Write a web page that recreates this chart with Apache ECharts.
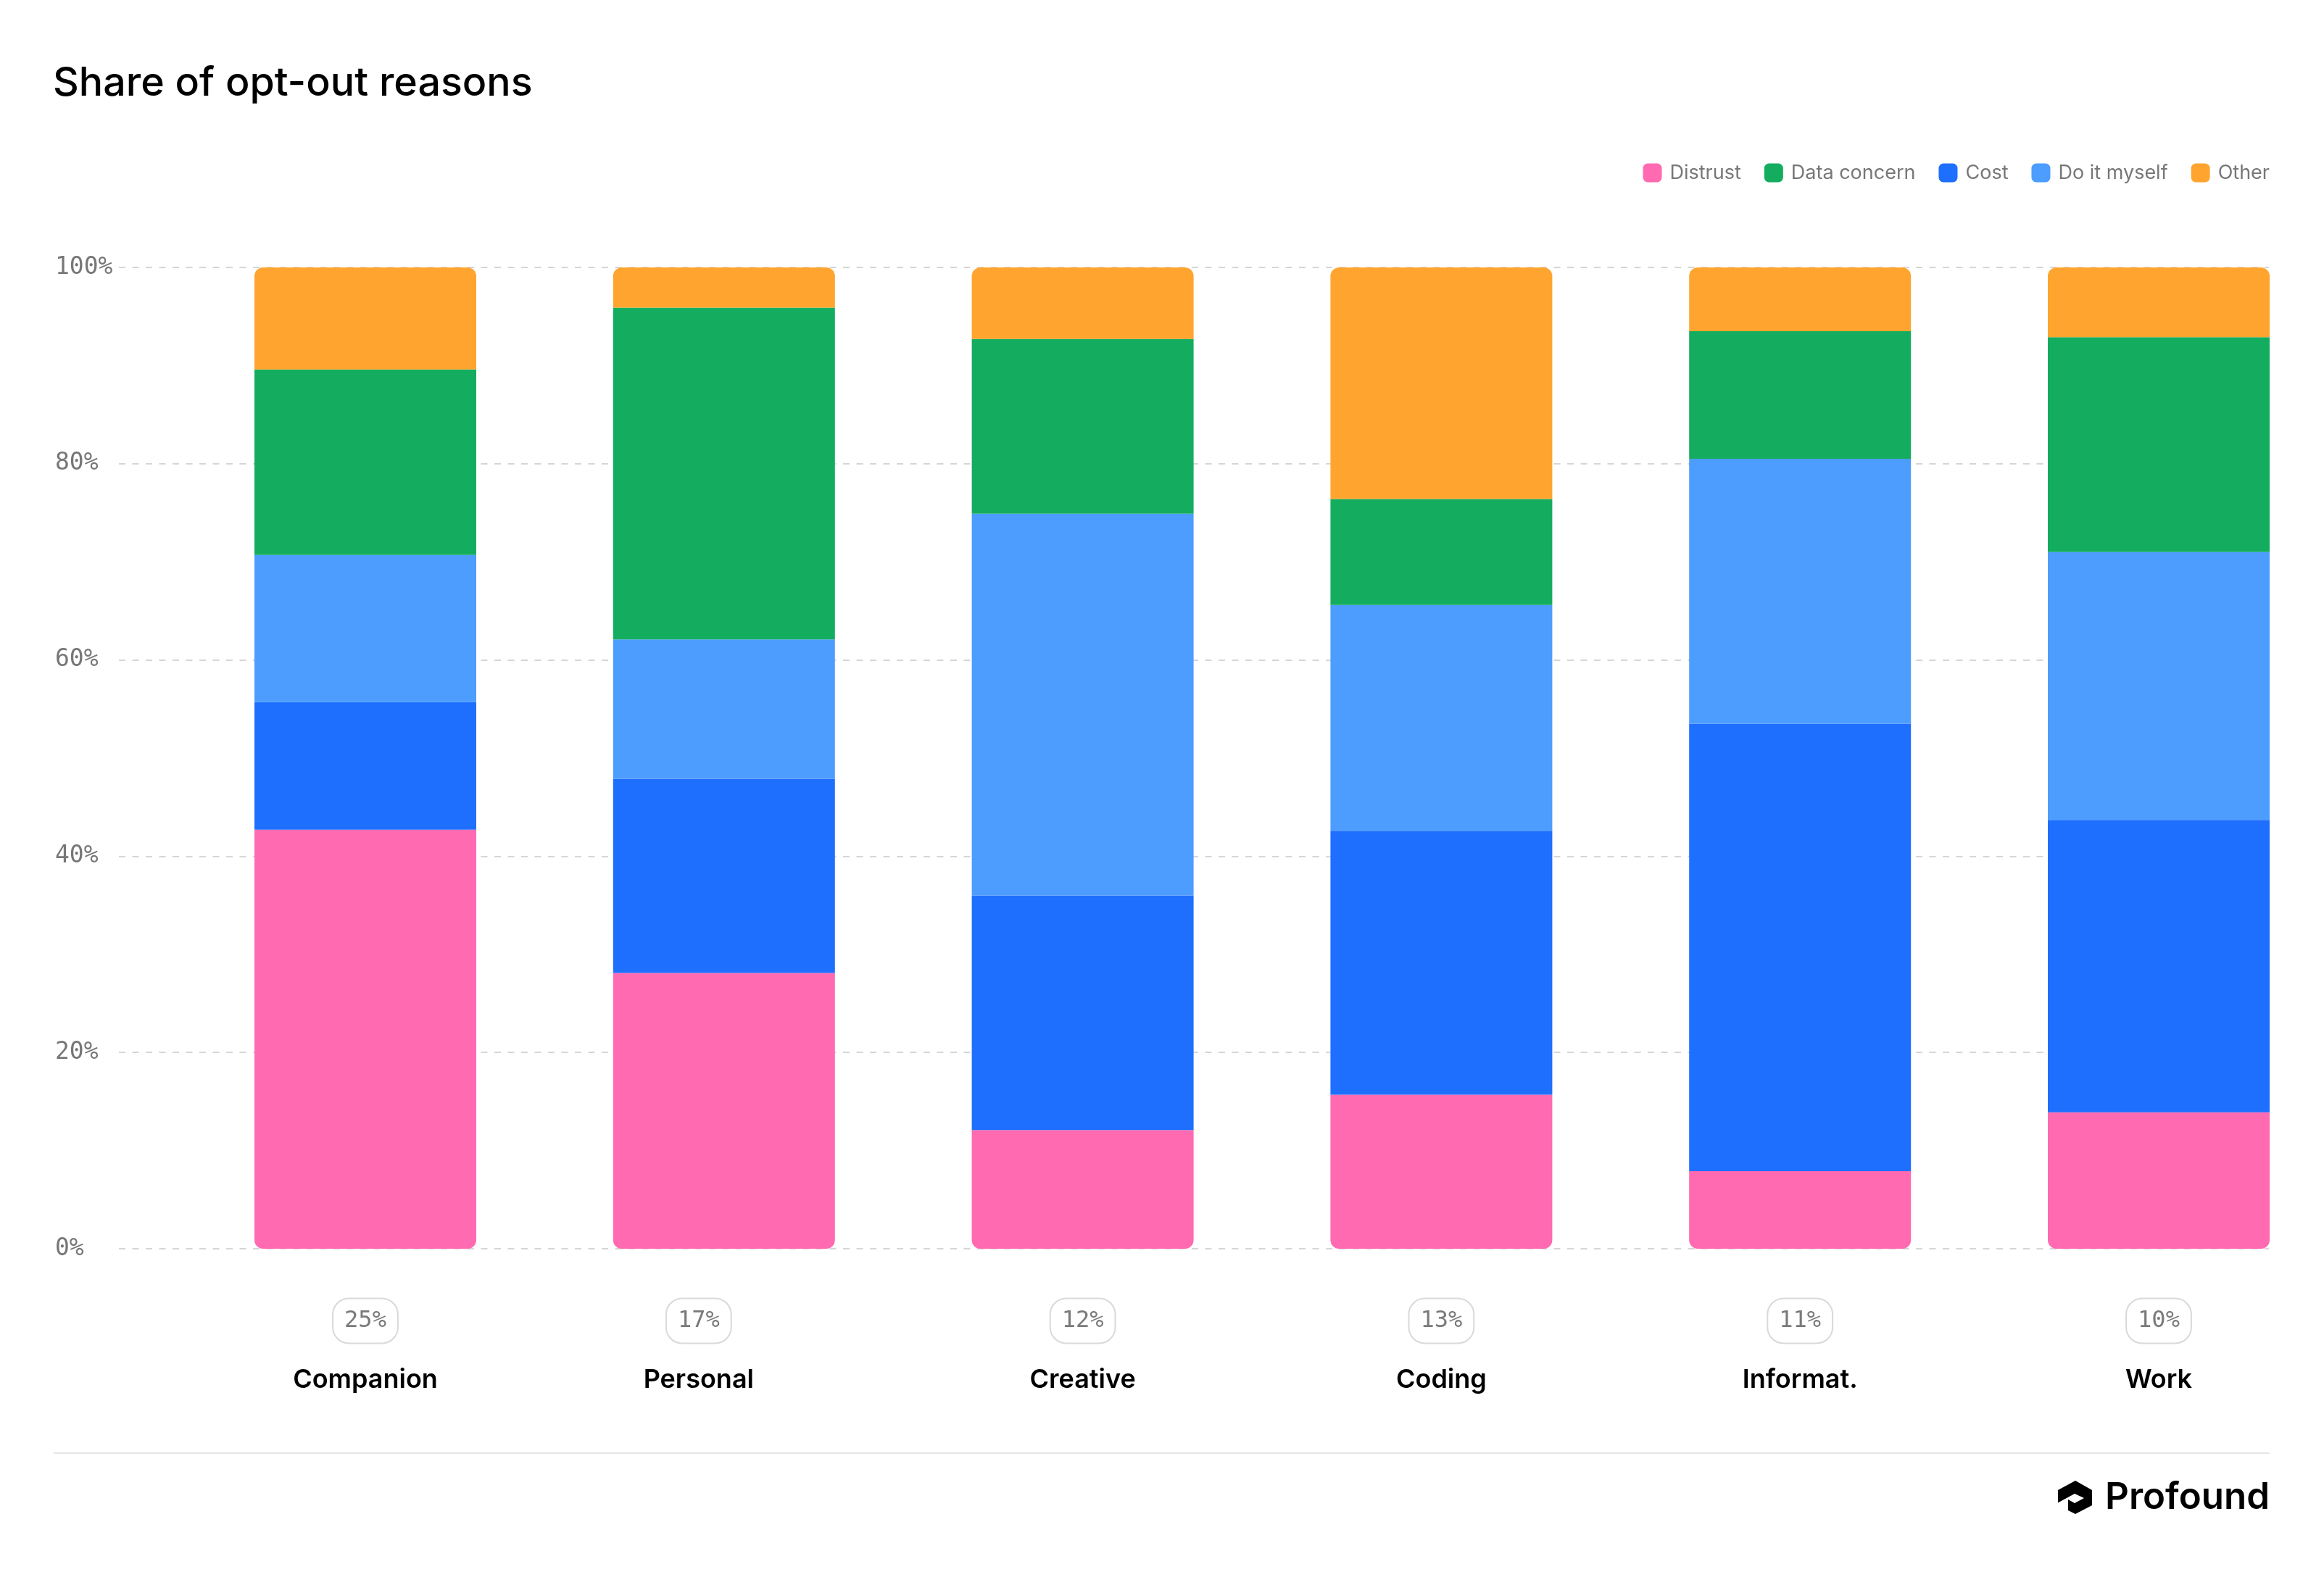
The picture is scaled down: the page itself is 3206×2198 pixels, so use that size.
<!DOCTYPE html>
<html>
<head>
<meta charset="utf-8">
<title>Share of opt-out reasons</title>
<script src="https://cdn.jsdelivr.net/npm/echarts@6/dist/echarts.min.js"></script>
<style>
  html, body { margin: 0; padding: 0; background: #fff; }
  #chart { width: 3206px; height: 2198px; }
</style>
</head>
<body>
<div id="chart"></div>
<script>
// data (percent of each bar)
var categories = ['Companion', 'Personal', 'Creative', 'Coding', 'Informat.', 'Work'];
var shares = [25, 17, 12, 13, 11, 10];
var distrust = [42.7, 28.1, 12.1, 15.7, 7.9, 13.9];
var cost = [13.0, 19.8, 23.9, 26.9, 45.6, 29.8];
var doItMyself = [15.0, 14.2, 38.9, 23.0, 27.0, 27.3];
var dataConcern = [18.9, 33.8, 17.8, 10.8, 13.0, 21.9];
var other = [10.4, 4.1, 7.3, 23.6, 6.5, 7.1];
var yTicks = [0, 20, 40, 60, 80, 100];

var colors = {
  distrust: '#FF6AB1',
  dataConcern: '#14AD5F',
  cost: '#1F6FFE',
  doItMyself: '#4D9DFE',
  other: '#FFA52F'
};

var myChart = echarts.init(document.getElementById('chart'));

function barSeries(name, data, color, radius) {
  return {
    name: name,
    type: 'bar',
    stack: 'total',
    xAxisIndex: 0,
    yAxisIndex: 0,
    barWidth: 306,
    clip: false,
    data: data,
    itemStyle: { color: color, borderRadius: radius || 0 }
  };
}

var option = {
  animation: false,
  backgroundColor: '#fff',
  color: [colors.distrust, colors.dataConcern, colors.cost, colors.doItMyself, colors.other],
  title: {
    text: 'Share of opt-out reasons',
    left: 68,
    top: 82,
    textStyle: { fontFamily: 'Inter', fontSize: 55.5, fontWeight: 500, color: '#000' }
  },
  legend: {
    right: 70,
    top: 220,
    itemWidth: 26,
    itemHeight: 26,
    itemGap: 32,
    icon: 'roundRect',
    data: ['Distrust', 'Data concern', 'Cost', 'Do it myself', 'Other'],
    textStyle: { fontFamily: 'Inter', fontSize: 27, color: '#777', padding: [0, 0, 0, 6] }
  },
  grid: [
    // bars
    { left: 504, right: 228, top: 369, bottom: 475 },
    // gridlines + y labels
    { left: 164, right: 76, top: 369, bottom: 475 }
  ],
  xAxis: [
    {
      type: 'category',
      gridIndex: 0,
      boundaryGap: false,
      data: categories.map(function (c) {
        var item = { value: c };
        // the Personal label sits a bit left of its bar in the original
        if (c === 'Personal') item.textStyle = { padding: [0, 70, 0, 0] };
        return item;
      }),
      axisLine: { show: false },
      axisTick: { show: false },
      splitLine: { show: false },
      axisLabel: {
        interval: 0,
        margin: 84,
        formatter: function (value, idx) {
          return '{p|' + shares[idx] + '%}\n{n|' + value + '}';
        },
        rich: {
          p: {
            fontFamily: 'DejaVu Sans Mono',
            fontSize: 32,
            color: '#7a7a7a',
            lineHeight: 31,
            padding: [15, 16, 15, 16],
            borderColor: '#d9d9d9',
            borderWidth: 2,
            borderRadius: 22
          },
          n: {
            fontFamily: 'Inter',
            fontSize: 36,
            fontWeight: 600,
            color: '#000',
            lineHeight: 132
          }
        }
      }
    },
    { type: 'value', gridIndex: 1, show: false }
  ],
  yAxis: [
    { type: 'value', gridIndex: 0, min: 0, max: 100, show: false },
    {
      type: 'value',
      gridIndex: 1,
      min: yTicks[0],
      max: yTicks[yTicks.length - 1],
      interval: 20,
      axisLine: { show: false },
      axisTick: { show: false },
      axisLabel: {
        align: 'left',
        margin: 88,
        fontFamily: 'DejaVu Sans Mono',
        fontSize: 33,
        color: '#777',
        formatter: '{value}%'
      },
      splitLine: {
        lineStyle: { color: '#d6d6d6', width: 2, type: [9, 9.5] }
      }
    }
  ],
  series: [
    barSeries('Distrust', distrust, colors.distrust, [0, 0, 12, 12]),
    barSeries('Cost', cost, colors.cost),
    barSeries('Do it myself', doItMyself, colors.doItMyself),
    barSeries('Data concern', dataConcern, colors.dataConcern),
    barSeries('Other', other, colors.other, [12, 12, 0, 0])
  ],
  graphic: [
    {
      type: 'line',
      shape: { x1: 74, y1: 2005, x2: 3131, y2: 2005 },
      style: { stroke: '#e6e6e6', lineWidth: 2 }
    },
    // logo mark
    {
      type: 'group',
      x: 2839,
      y: 2043,
      children: [
        {
          type: 'polygon',
          shape: { points: [[24, 0], [47, 13], [47, 34], [24, 46], [0, 34], [0, 13]] },
          style: { fill: '#000' }
        },
        {
          type: 'polygon',
          shape: { points: [[-1, 31], [23, 18], [36, 24], [23, 31], [14, 26], [14, 47], [-1, 47]] },
          style: { fill: '#fff' }
        }
      ]
    },
    {
      type: 'text',
      x: 3131,
      y: 2067,
      style: {
        text: 'Profound',
        fontFamily: 'Inter',
        fontSize: 51,
        fontWeight: 600,
        fill: '#000',
        align: 'right',
        verticalAlign: 'middle'
      }
    }
  ]
};

myChart.setOption(option);
</script>
</body>
</html>
